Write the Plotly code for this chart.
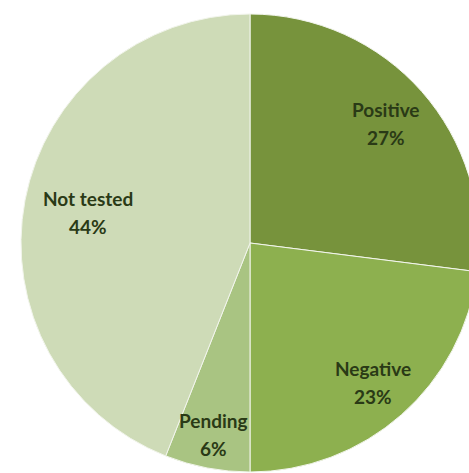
import math
import plotly.graph_objects as go

labels = ["Positive", "Negative", "Pending", "Not tested"]
values = [27, 23, 6, 44]
colors = ["#77933C", "#8DB04F", "#A9C482", "#CEDBB7"]

# label placement as a fraction of the radius (style only)
label_r = [0.79, 0.81, 0.85, 0.72]

W, H = 480, 473
cx, cy, R = 250, 243, 229

fig = go.Figure(go.Pie(
    labels=labels,
    values=values,
    sort=False,
    direction="clockwise",
    rotation=0,
    marker=dict(colors=colors, line=dict(color="#F2F5EC", width=1)),
    textinfo="none",
    hoverinfo="label+percent",
    showlegend=False,
    domain=dict(x=[(cx - R) / W, (cx + R) / W], y=[1 - (cy + R) / H, 1 - (cy - R) / H]),
))

# annotations at each slice's mid angle
total = sum(values)
acc = 0
for lab, v, f in zip(labels, values, label_r):
    mid = (acc + v / 2) / total * 2 * math.pi
    acc += v
    px = cx + R * f * math.sin(mid)
    py = cy - R * f * math.cos(mid)
    for txt, dy in [(lab, -14), (f"{round(v / total * 100)}%", 14)]:
        fig.add_annotation(
            x=px / W, y=1 - (py + dy) / H, xref="paper", yref="paper",
            text=f"<b>{txt}</b>", showarrow=False, xanchor="center", yanchor="middle",
            font=dict(family="Lato", size=19, color="#2A3A16"),
        )

fig.update_layout(
    width=W, height=H,
    margin=dict(l=0, r=0, t=0, b=0),
    paper_bgcolor="white",
    plot_bgcolor="white",
)

fig.write_html(
    "out.html",
    config={"displayModeBar": False},
    post_script="document.body.style.margin='0';document.body.style.overflow='hidden';document.documentElement.style.overflow='hidden';",
)
